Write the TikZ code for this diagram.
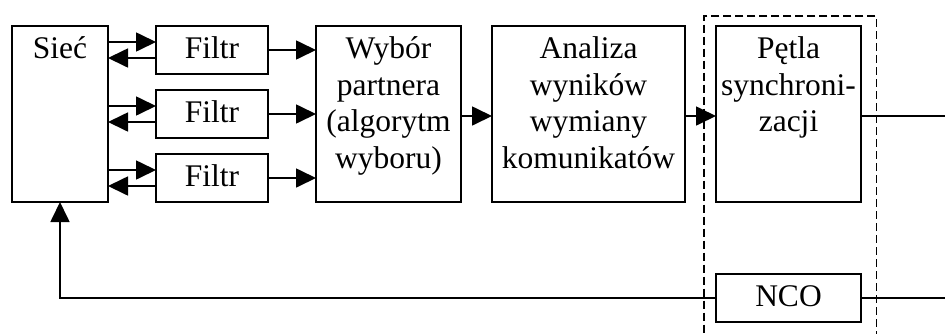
\documentclass[tikz,border=0pt]{standalone}
\usepackage{fontspec}
\setmainfont{Liberation Serif}
\usetikzlibrary{arrows.meta}
\newcommand{\firststrut}{\rule{0pt}{25pt}}
\begin{document}
\begin{tikzpicture}[x=1pt,y=-1pt,
  box/.style={draw,line width=1.7pt,rectangle,inner sep=0pt,outer sep=0pt},
  txt/.style={anchor=north,inner sep=0pt,align=center,font=\fontsize{31.5}{36.8}\selectfont},
  arr/.style={line width=1.7pt,-{Triangle[length=20pt,width=19pt]}},
  ln/.style={line width=1.7pt}]
\useasboundingbox (0,0) rectangle (945,333);
\clip (0,0) rectangle (945,333);
% boxes
\node[box,minimum width=96pt,minimum height=176pt] (siec) at (60,114) {};
\node[box,minimum width=112pt,minimum height=48pt] (f1) at (212,50) {};
\node[box,minimum width=112pt,minimum height=48pt] (f2) at (212,114) {};
\node[box,minimum width=112pt,minimum height=48pt] (f3) at (212,178) {};
\node[box,minimum width=145pt,minimum height=176pt] (wyb) at (388.5,114) {};
\node[box,minimum width=193pt,minimum height=176pt] (anal) at (588.5,114) {};
\node[box,minimum width=145pt,minimum height=176pt] (petla) at (788.5,114) {};
\node[box,minimum width=145pt,minimum height=48pt] (nco) at (788.5,298) {};
% texts
\node[txt] (siec-t) at (60,33) {\firststrut Sieć};
\node[txt] (f1-t) at (212,33) {\firststrut Filtr};
\node[txt] (f2-t) at (212,97) {\firststrut Filtr};
\node[txt] (f3-t) at (212,161) {\firststrut Filtr};
\node[txt] (wyb-t) at (388.5,33) {\firststrut Wybór\\partnera\\(algorytm\\wyboru)};
\node[txt] (anal-t) at (588.5,33) {\firststrut Analiza\\wyników\\wymiany\\komunikatów};
\node[txt] (petla-t) at (788.5,33) {\firststrut Pętla\\synchroni-\\zacji};
\node[txt] (nco-t) at (788.5,281) {\firststrut NCO};
% dashed frame
\node[draw,line width=1.5pt,dash pattern=on 8pt off 4pt,inner sep=0pt,outer sep=0pt,
  minimum width=172.7pt,minimum height=330pt] (frame) at (790.35,181) {};
% coordinates for arrows
\foreach \f in {f1,f2,f3}{
  \coordinate (\f in) at ([yshift=8pt]\f.west);
  \coordinate (\f out) at ([yshift=-8pt]\f.west);
}
\coordinate (wybout) at ([yshift=-2pt]wyb.east);
\coordinate (analout) at ([yshift=-2pt]anal.east);
\coordinate (petlaout) at ([yshift=-2pt]petla.east);
\coordinate (end1) at (945,116);
\coordinate (end2) at (945,298);
% connectors
\foreach \f in {f1,f2,f3}{
  \draw[arr] (siec.east |- \f in) -- (\f in);
  \draw[arr] (\f out) -- (siec.east |- \f out);
  \draw[arr] (\f.east) -- (wyb.west |- \f.east);
}
\draw[arr] (wybout) -- (anal.west |- wybout);
\draw[arr] (analout) -- (petla.west |- analout);
\draw[ln] (petlaout) -- (end1);
\draw[ln] (nco.east) -- (end2);
\draw[arr] (nco.west) -| (siec.south);
\end{tikzpicture}
\end{document}
